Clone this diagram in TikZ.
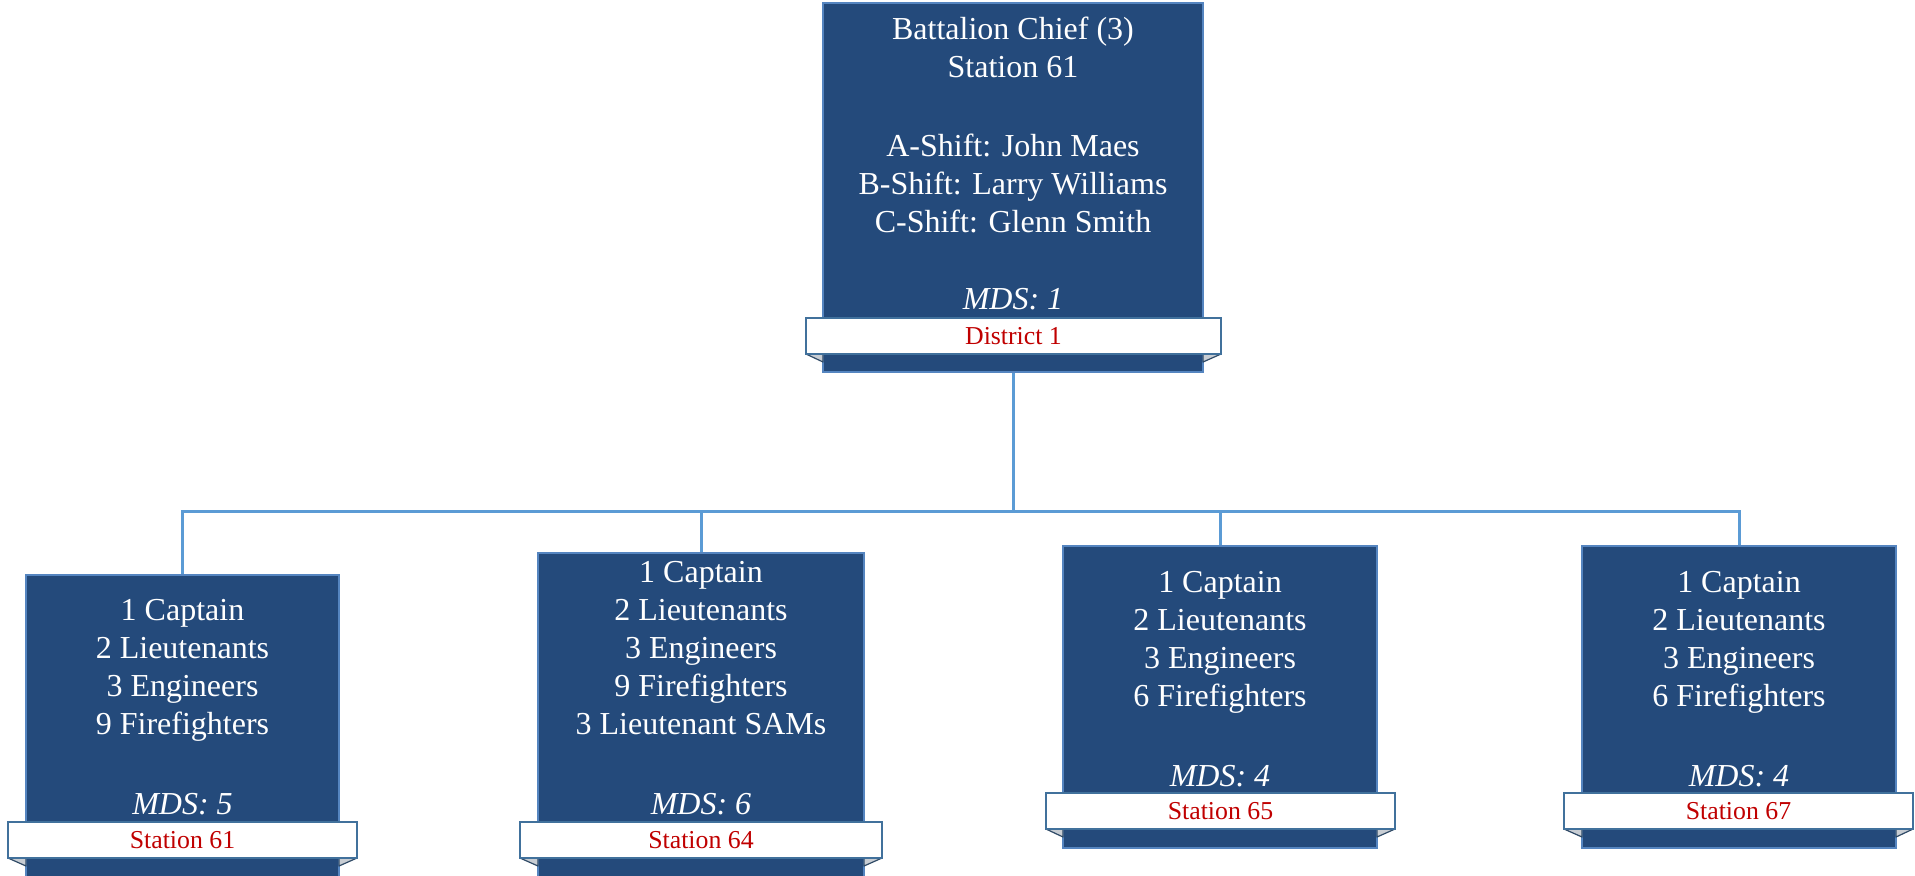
\documentclass[tikz,border=0pt]{standalone}
\usepackage{fontspec}
\setmainfont{Liberation Serif}
\usetikzlibrary{fit,calc}
\definecolor{boxblue}{HTML}{244A7B}
\definecolor{boxedge}{HTML}{5585C0}
\definecolor{linkblue}{HTML}{5B9BD5}
\definecolor{banneredge}{HTML}{41719C}
\definecolor{bannerred}{HTML}{C00000}
\definecolor{foldgrey}{HTML}{C8CDD3}
\definecolor{foldedge}{HTML}{2F4A66}
\begin{document}
\begin{tikzpicture}[x=0.5pt,y=-0.5pt,
  unitbox/.style={draw=boxedge, line width=0.9pt, fill=boxblue, inner sep=0pt},
  banner/.style={draw=banneredge, line width=0.9pt, fill=white, inner sep=0pt},
  bannertext/.style={inner sep=0pt, text=bannerred, font=\fontsize{12.9}{15}\selectfont},
  fold/.style={fill=foldgrey, draw=foldedge, line width=0.6pt, line join=round},
  bodytext/.style={text=white, align=center, inner sep=0pt,
    font=\fontsize{16}{19}\selectfont},
  link/.style={draw=linkblue, line width=1.5pt}]
\useasboundingbox (0,0) rectangle (1915,875);
\clip (0,0) rectangle (1915,875);

% geometry (pixel coordinates)
\coordinate (top-A) at (823,3);   \coordinate (top-B) at (1203,372);
\coordinate (top-bA) at (806,318); \coordinate (top-bB) at (1221,354);
\coordinate (s1-A) at (26,575);   \coordinate (s1-B) at (339,877);
\coordinate (s1-bA) at (8,822);   \coordinate (s1-bB) at (357,858);
\coordinate (s2-A) at (538,553);  \coordinate (s2-B) at (864,877);
\coordinate (s2-bA) at (520,822); \coordinate (s2-bB) at (882,858);
\coordinate (s3-A) at (1063,546); \coordinate (s3-B) at (1377,848);
\coordinate (s3-bA) at (1046,793); \coordinate (s3-bB) at (1395,829);
\coordinate (s4-A) at (1582,546); \coordinate (s4-B) at (1896,848);
\coordinate (s4-bA) at (1564,793); \coordinate (s4-bB) at (1913,829);

% boxes
\foreach \n in {top,s1,s2,s3,s4}{
  \node[unitbox, fit=(\n-A)(\n-B)] (\n-box) {};
}

% connectors
\coordinate (bus) at (1013,511);
\draw[link] (top-box.south) -- (bus);
\draw[link] (bus) -| (s1-box.north);
\draw[link] (bus) -| (s2-box.north);
\draw[link] (bus) -| (s3-box.north);
\draw[link] (bus) -| (s4-box.north);

% folds
\foreach \n in {top,s1,s2,s3,s4}{
  \filldraw[fold] (\n-bA |- \n-bB) -- (\n-A |- \n-bB) -- ($(\n-A |- \n-bB)+(0,8)$) -- cycle;
  \filldraw[fold] (\n-bB) -- (\n-B |- \n-bB) -- ($(\n-B |- \n-bB)+(0,8)$) -- cycle;
}

% banners
\node[banner, fit=(top-bA)(top-bB)] (top-ban) {};
\node[bannertext] (top-lbl) at (top-ban.center) {District 1};
\node[banner, fit=(s1-bA)(s1-bB)] (s1-ban) {};
\node[bannertext] (s1-lbl) at (s1-ban.center) {Station 61};
\node[banner, fit=(s2-bA)(s2-bB)] (s2-ban) {};
\node[bannertext] (s2-lbl) at (s2-ban.center) {Station 64};
\node[banner, fit=(s3-bA)(s3-bB)] (s3-ban) {};
\node[bannertext] (s3-lbl) at (s3-ban.center) {Station 65};
\node[banner, fit=(s4-bA)(s4-bB)] (s4-ban) {};
\node[bannertext] (s4-lbl) at (s4-ban.center) {Station 67};

% texts (anchor base = baseline of the last line)
\node[bodytext, anchor=base] (top-txt) at (1013,309)
  {Battalion Chief (3)\\Station 61\\[20.5pt]A-Shift: John Maes\\B-Shift: Larry Williams\\C-Shift: Glenn Smith\\[19.5pt]\textit{MDS: 1}};
\node[bodytext, anchor=base] (s1-txt) at (182.5,814)
  {1 Captain\\2 Lieutenants\\3 Engineers\\9 Firefighters\\[21pt]\textit{MDS: 5}};
\node[bodytext, anchor=base] (s2-txt) at (701,814)
  {1 Captain\\2 Lieutenants\\3 Engineers\\9 Firefighters\\3 Lieutenant SAMs\\[21pt]\textit{MDS: 6}};
\node[bodytext, anchor=base] (s3-txt) at (1220,786)
  {1 Captain\\2 Lieutenants\\3 Engineers\\6 Firefighters\\[21pt]\textit{MDS: 4}};
\node[bodytext, anchor=base] (s4-txt) at (1739,786)
  {1 Captain\\2 Lieutenants\\3 Engineers\\6 Firefighters\\[21pt]\textit{MDS: 4}};
\end{tikzpicture}
\end{document}
